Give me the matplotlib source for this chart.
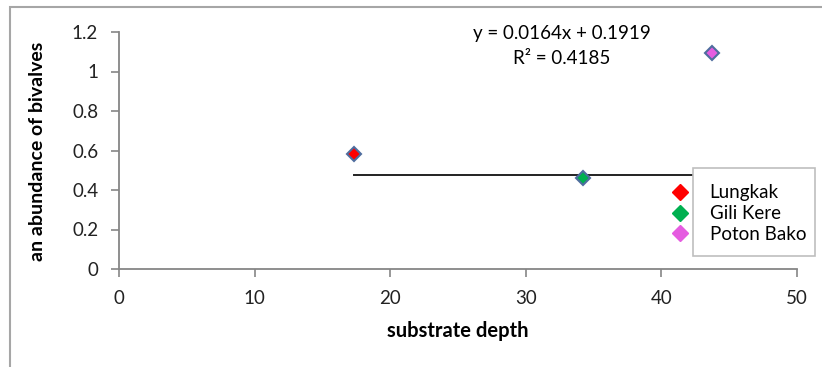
import matplotlib.pyplot as plt
from matplotlib.patches import Rectangle
from matplotlib.lines import Line2D

# data
sites = ['Lungkak', 'Gili Kere', 'Poton Bako']
depth = [17.3, 34.2, 43.7]
abundance = [0.582, 0.461, 1.094]
colors = ['#FF0000', '#00B050', '#E55CE0']
trend_x = [17.3, 43.7]
trend_y = [0.476, 0.476]
x_ticks = [0, 10, 20, 30, 40, 50]
y_ticks = [0, 0.2, 0.4, 0.6, 0.8, 1, 1.2]
y_labels = ['0', '0.2', '0.4', '0.6', '0.8', '1', '1.2']

plt.rcParams['font.family'] = ['Lato', 'DejaVu Sans']
grey = '#868686'

fig = plt.figure(figsize=(8.22, 3.67), dpi=100)
ax = fig.add_axes([119/822, 1-269/367, (797-119)/822, (269-32)/367])

# outer chart border (cut off at right and bottom like the reference)
fig.patches.append(Rectangle((10/822, -0.1), 1.2, 1 - 7/367 + 0.1, transform=fig.transFigure,
                             fill=False, edgecolor='#A6A6A6', linewidth=1.5))

ax.plot(trend_x, trend_y, color='#222222', linewidth=1.4, zorder=2)
for x, y, c in zip(depth, abundance, colors):
    ax.plot(x, y, marker='D', markersize=7.5, markerfacecolor=c,
            markeredgecolor='#4F6D9E', markeredgewidth=1.5, linestyle='none', zorder=3)

ax.set_xlim(0, 50)
ax.set_ylim(0, 1.2)
ax.set_xticks(x_ticks)
ax.set_yticks(y_ticks)
ax.set_yticklabels(y_labels)
for s in ['top', 'right']:
    ax.spines[s].set_visible(False)
for s in ['left', 'bottom']:
    ax.spines[s].set_color(grey)
    ax.spines[s].set_linewidth(1.3)
ax.tick_params(direction='out', length=6, width=1.2, color=grey, labelsize=13.5,
               labelcolor='#222222', pad=9)
ax.set_xlabel('substrate depth', fontsize=14.5, fontweight='bold')
ax.set_ylabel('an abundance of bivalves', fontsize=14, fontweight='bold')
ax.xaxis.set_label_coords(0.5, (269-331)/237, transform=ax.transAxes)
ax.yaxis.set_label_coords((38-119)/678, 0.495, transform=ax.transAxes)
ax.xaxis.label.set_va('center')
ax.yaxis.label.set_va('center')

ax.text(0.653, 0.94, 'y = 0.0164x + 0.1919\nR² = 0.4185', transform=ax.transAxes,
        ha='center', va='center', fontsize=13.5, linespacing=1.55)

# legend box (markers sit just left of the frame, as in the reference)
fig.patches.append(Rectangle((693/822, 1-256/367), (815-693)/822, (256-168)/367,
                             transform=fig.transFigure, facecolor='white',
                             edgecolor='#BFBFBF', linewidth=1.2, zorder=5))
handles = [Line2D([], [], marker='D', color=c, markersize=8.5, linestyle='none') for c in colors]
leg = fig.legend(handles, sites, loc='upper left', bbox_to_anchor=(659/822, 1-175/367),
                 frameon=False, fontsize=13.5, handletextpad=1.0, labelspacing=0.2,
                 borderpad=0, handlelength=1.2)
leg.set_zorder(6)

fig.savefig('out.png', dpi=100)
